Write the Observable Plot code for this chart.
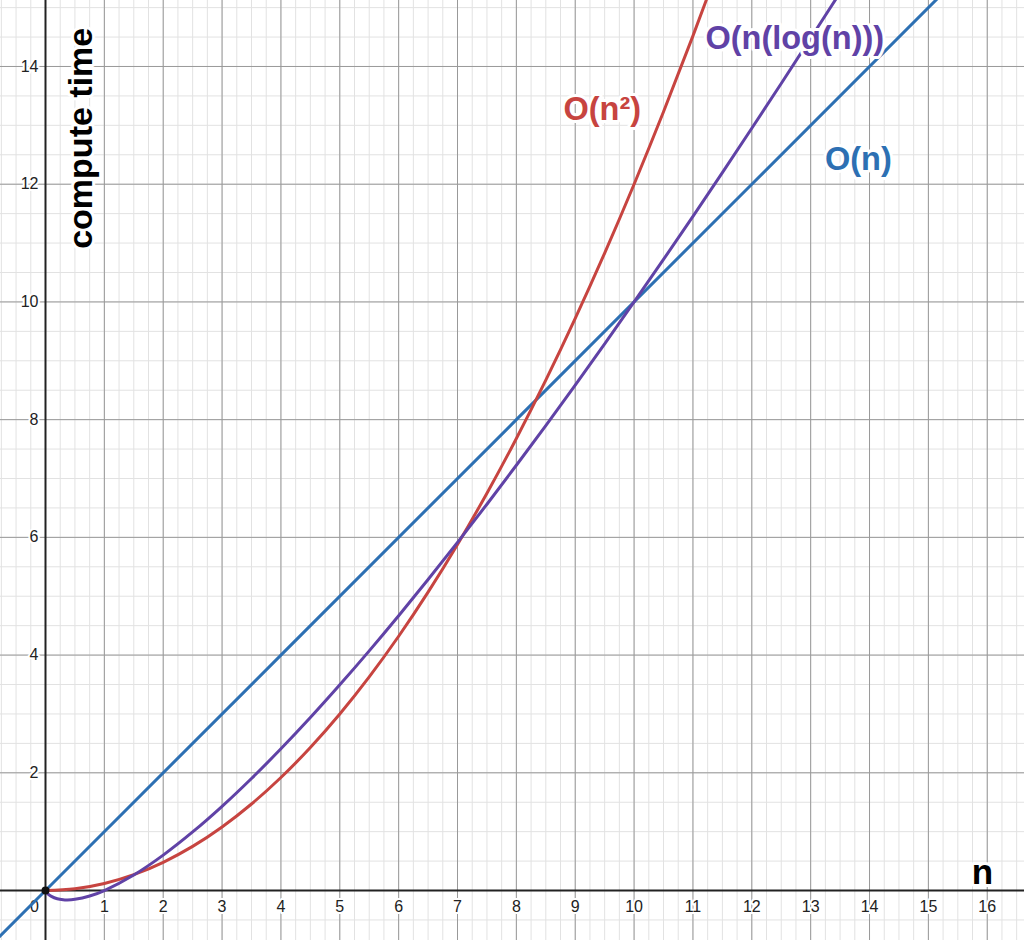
<!DOCTYPE html>
<html><head><meta charset="utf-8">
<script src="https://cdn.jsdelivr.net/npm/d3@7"></script>
<script src="https://cdn.jsdelivr.net/npm/@observablehq/plot@0.6"></script>
<style>
body{margin:0;background:#fff;}
g[aria-label="curve-label"] text{filter:drop-shadow(1px 1.5px 1.5px rgba(0,0,0,0.45));}
</style></head><body><div id="chart"></div>
<script>
// Series
const linearN = [-1, 0, 4, 8, 12, 16];
const linearT = [-1, 0, 4, 8, 12, 16];

const quadN = [0, 0.5, 1, 1.5, 2, 2.5, 3, 3.5, 4, 4.5, 5, 5.5, 6, 6.5, 7, 7.5, 8, 8.5, 9, 9.5, 10, 10.5, 11, 11.5];
const quadT = [0, 0.03, 0.12, 0.27, 0.48, 0.75, 1.08, 1.47, 1.92, 2.43, 3.0, 3.63, 4.32, 5.07, 5.88, 6.75, 7.68, 8.67, 9.72, 10.83, 12.0, 13.23, 14.52, 15.87];

const nlognN = [0, 0.02, 0.05, 0.1, 0.2, 0.3, 0.37, 0.5, 0.75, 1, 1.5, 2, 2.5, 3, 3.5, 4, 4.5, 5, 5.5, 6, 6.5, 7, 7.5, 8, 8.5, 9, 9.5, 10, 10.5, 11, 11.5, 12, 12.5, 13, 13.5, 14];
const nlognT = [0, -0.034, -0.065, -0.1, -0.14, -0.157, -0.16, -0.15, -0.094, 0, 0.264, 0.602, 0.995, 1.431, 1.904, 2.408, 2.939, 3.495, 4.072, 4.669, 5.284, 5.916, 6.563, 7.225, 7.9, 8.588, 9.288, 10, 10.722, 11.455, 12.198, 12.95, 13.711, 14.481, 15.256, 16.05];

const xTickLabels = [1, 2, 3, 4, 5, 6, 7, 8, 9, 10, 11, 12, 13, 14, 15, 16];
const originLabel = ["0"];
const yTickLabels = [2, 4, 6, 8, 10, 12, 14];

const curveNames = ["O(n²)", "O(n(log(n)))", "O(n)"];
const curveColors = ["#c74440", "#6042a6", "#2d70b3"];
const labelN = [9.46, 12.73, 13.81];
const labelT = [13.26, 14.47, 12.41];

const toRows = (xs, ys) => xs.map((x, i) => ({n: x, t: ys[i]}));
const linear = toRows(linearN, linearT);
const quad = toRows(quadN, quadT);
const nlogn = toRows(nlognN, nlognT);
const labels = curveNames.map((s, i) => ({s, n: labelN[i], t: labelT[i], c: curveColors[i]}));

const xDom = [-0.7645, 16.633];
const yDom = [-0.849, 15.121];
const minorX = d3.range(-0.75, 16.7, 0.25);
const minorY = d3.range(-0.5, 15.2, 0.5);
const majorX = d3.range(0, 17, 1);
const majorY = d3.range(0, 16, 2);

const font = "Liberation Sans, Arial, Helvetica, sans-serif";

const chart = Plot.plot({
  width: 1024, height: 940,
  margin: 0,
  style: {background: "#fff", fontFamily: font},
  x: {domain: xDom, axis: null},
  y: {domain: yDom, axis: null},
  marks: [
    Plot.ruleX(minorX, {stroke: "#e2e2e2", strokeWidth: 1}),
    Plot.ruleY(minorY, {stroke: "#e2e2e2", strokeWidth: 1}),
    Plot.ruleX(majorX, {stroke: "#999", strokeWidth: 1}),
    Plot.ruleY(majorY, {stroke: "#999", strokeWidth: 1}),
    Plot.ruleX([0], {stroke: "#222", strokeWidth: 2}),
    Plot.ruleY([0], {stroke: "#222", strokeWidth: 2}),
    Plot.text(xTickLabels, {x: d => d, y: () => 0, text: d => String(d), dy: 16,
      fontSize: 16, fill: "#222", stroke: "white", strokeWidth: 4, paintOrder: "stroke"}),
    Plot.text(originLabel, {x: () => 0, y: () => 0, text: d => d, dy: 16, dx: -11,
      fontSize: 16, fill: "#222", stroke: "white", strokeWidth: 4, paintOrder: "stroke"}),
    Plot.text(yTickLabels, {x: () => 0, y: d => d, text: d => String(d), dx: -7, textAnchor: "end",
      fontSize: 16, fill: "#222", stroke: "white", strokeWidth: 4, paintOrder: "stroke"}),
    Plot.line(linear, {x: "n", y: "t", stroke: curveColors[2], strokeWidth: 3, clip: true}),
    Plot.line(quad, {x: "n", y: "t", stroke: curveColors[0], strokeWidth: 3, curve: "catmull-rom", clip: true}),
    Plot.line(nlogn, {x: "n", y: "t", stroke: curveColors[1], strokeWidth: 3, curve: "catmull-rom", clip: true}),
    Plot.dot([0], {x: () => 0, y: () => 0, r: 4, fill: "#111"}),
    Plot.text(labels, {x: "n", y: "t", text: "s", fill: "c", fontSize: 32.5, fontWeight: "bold",
      stroke: "white", strokeWidth: 6, paintOrder: "stroke", ariaLabel: "curve-label", fontFamily: font}),
    Plot.text(["compute time"], {x: () => 0.6, y: () => 12.78, text: d => d, rotate: -90, fill: "#000", fontSize: 34, fontWeight: "bold",
      stroke: "white", strokeWidth: 6, paintOrder: "stroke", ariaLabel: "curve-label", fontFamily: font}),
    Plot.text(["n"], {x: () => 15.92, y: () => 0.3, text: d => d, fill: "#000", fontSize: 35, fontWeight: "bold",
      stroke: "white", strokeWidth: 6, paintOrder: "stroke", ariaLabel: "curve-label", fontFamily: font})
  ]
});
document.getElementById("chart").appendChild(chart);
</script></body></html>
